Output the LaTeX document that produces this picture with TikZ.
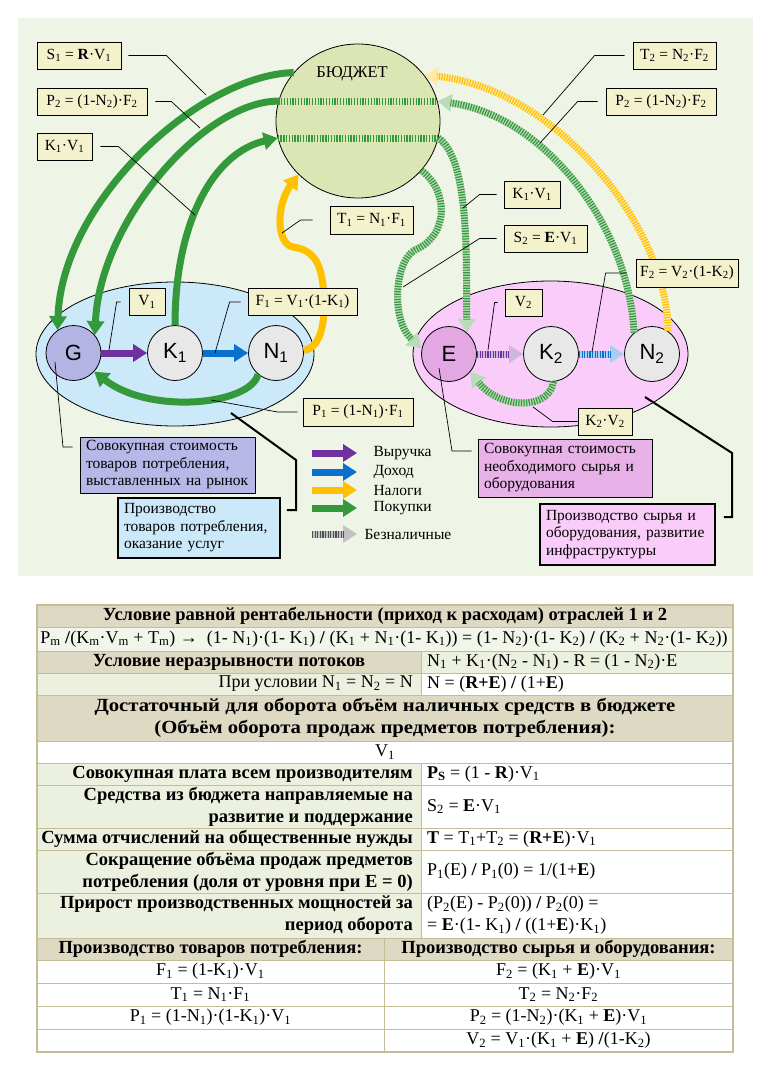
\documentclass[tikz,border=0pt]{standalone}
\usepackage{fontspec}
\setmainfont{Liberation Serif}
\newfontfamily\sansf{Liberation Sans}
\usetikzlibrary{arrows.meta,shapes.geometric}
\definecolor{panel}{HTML}{EEF5E6}
\definecolor{budfill}{HTML}{DCE6B4}
\definecolor{grn}{HTML}{33993A}
\definecolor{yel}{HTML}{FFC000}
\definecolor{pur}{HTML}{7030A0}
\definecolor{blu}{HTML}{0A70D0}
\definecolor{lblue}{HTML}{CCE9F9}
\definecolor{gfill}{HTML}{B4B4E4}
\definecolor{lpink}{HTML}{F9CCF9}
\definecolor{efill}{HTML}{E3A8E3}
\definecolor{pinkbox}{HTML}{E8B2E8}
\definecolor{lavbox}{HTML}{B8B8E8}
\definecolor{lblc}{HTML}{F4F1CD}
\definecolor{ngray}{HTML}{E8E8E8}
\definecolor{tanc}{HTML}{DDD9C3}
\definecolor{lgrn}{HTML}{EBF1DE}
\definecolor{pgrn}{HTML}{F2F6EA}
\definecolor{tborder}{HTML}{C4BD97}
\definecolor{hgray}{HTML}{505050}
\newcommand\sbs[1]{\textsubscript{#1}}
\newcommand\lf{\fontsize{15.5}{17.5}\selectfont}
\newcommand\nf{\sansf\fontsize{22}{24}\selectfont}
\newcommand\tf{\fontsize{18}{22}\selectfont}
\newcommand\tfb{\fontsize{18.5}{22}\selectfont\bfseries}
\newcommand\wide[1]{\scalebox{1.12}[1]{#1}}
\newcommand\hatch[2]{%
  \draw[line width=7pt, #1!35, -{Triangle[length=14pt,width=17pt]}] #2;
  \draw[line width=7pt, #1, dash pattern=on 1.2pt off 1.4pt, shorten >=13pt] #2;}
\newcommand\cell[5]{\draw[tborder, line width=1pt, fill=#5] (#1,#2) rectangle (#3,#4);}
\tikzset{
  circ/.style={circle, draw, line width=0.8pt, minimum size=55pt, inner sep=0pt, font=\nf},
  fat/.style={line width=7pt, -{Triangle[length=14pt,width=17pt]}},
  lbl/.style={draw, line width=0.8pt, fill=lblc, font=\lf, inner sep=0pt, minimum height=27pt},
  desc/.style={draw, font=\lf, align=left, inner xsep=6pt, inner ysep=0pt},
  lead/.style={draw, line width=0.7pt},
  tlead/.style={draw, line width=2pt},
  tl/.style={font=\tfb, anchor=east, align=right, inner sep=2pt},
  tr/.style={font=\tf, anchor=west, align=left, inner sep=2pt},
}
\begin{document}
\begin{tikzpicture}[x=1pt,y=-1pt]
\useasboundingbox (0,0) rectangle (768,1086);
\fill[white] (0,0) rectangle (768,1086);
\fill[panel] (18,18) rectangle (753,576);

% ellipses and budget
\node[ellipse, draw, line width=0.8pt, fill=lblue, minimum width=278pt, minimum height=144pt, inner sep=0pt] (ellA) at (175,354) {};
\node[ellipse, draw, line width=0.8pt, fill=lpink, minimum width=275pt, minimum height=146pt, inner sep=0pt] (ellB) at (550.5,354) {};
\node[ellipse, draw, line width=0.8pt, fill=budfill, minimum width=164pt, minimum height=154pt, inner sep=0pt] (bud) at (358,121) {};
\node[font=\fontsize{16.5}{18}\selectfont] (budt) at (352,74) {БЮДЖЕТ};

% circles
\node[circ, fill=gfill] (G) at (73.5,353) {G};
\node[circ, fill=ngray] (K1) at (175,353) {K\sbs{1}};
\node[circ, fill=ngray] (N1) at (276,353) {N\sbs{1}};
\node[circ, fill=efill] (E) at (449,354) {E};
\node[circ, fill=ngray] (K2) at (551,354) {K\sbs{2}};
\node[circ, fill=ngray] (N2) at (652,354) {N\sbs{2}};

% stripes in the budget
\draw[line width=7pt, grn, dash pattern=on 1.3pt off 1.5pt] (bud.166) -- (bud.14);
\draw[line width=7pt, grn, dash pattern=on 1.3pt off 1.5pt] (bud.192) -- (bud.-12);

% solid arrows
\draw[fat, grn] (bud.143) .. controls (200,75) and (62,200) .. (G.125);
\draw[fat, grn] (bud.166) .. controls (205,101) and (100,220) .. (G.40);
\draw[fat, grn] (K1.90) .. controls (175,220) and (215,152) .. (bud.192);
\draw[fat, grn] (N1.230) .. controls (250,405) and (150,415) .. (G.-42);
\draw[fat, yel] (N1.5) .. controls (318,348) and (325,330) .. (324,300)
   .. controls (323,265) and (315,250) .. (293,247)
   .. controls (276,244) and (276,205) .. (bud.222);
\draw[fat, pur] (G) -- (K1);
\draw[fat, blu] (K1) -- (N1);

% hatched arrows
\hatch{yel}{(N2.55) .. controls (668,230) and (560,90) .. (bud.35)}
\hatch{grn}{(N2.130) .. controls (628,220) and (540,115) .. (bud.14)}
\hatch{grn}{(bud.-12) .. controls (470,160) and (466,260) .. (E.50)}
\hatch{grn}{(bud.-38) .. controls (448,190) and (450,235) .. (415,250) .. controls (395,260) and (390,320) .. (E.168)}
\hatch{grn}{(K2.-85) .. controls (550,410) and (500,410) .. (E.-40)}
\hatch{pur}{(E) -- (K2)}
\hatch{blu}{(K2) -- (N2)}

% leader end points
\coordinate (s1e) at (206,95);
\coordinate (p2le) at (200,128);
\coordinate (k1v1le) at (195,215);
\coordinate (t1e) at (282,233);
\coordinate (t2e) at (543,115);
\coordinate (p2re) at (540,143);
\coordinate (k1v1re) at (463,208);
\coordinate (s2e) at (403,287);
\coordinate (f2e) at (592,352);
\coordinate (v1e) at (109,350);
\coordinate (f1e) at (215,353);
\coordinate (v2e) at (488,350);
\coordinate (p1e) at (211,400);
\coordinate (k2v2e) at (533,407);

% labels
\node[lbl, minimum width=84pt] (S1) at (79,55.5) {S\sbs{1} = \textbf{R}·V\sbs{1}};
\node[lbl, minimum width=110pt] (P2L) at (92,101.5) {P\sbs{2} = (1-N\sbs{2})·F\sbs{2}};
\node[lbl, minimum width=55pt] (K1V1L) at (64.5,146.5) {K\sbs{1}·V\sbs{1}};
\node[lbl, minimum width=83pt, minimum height=28pt] (T1) at (371.5,220) {T\sbs{1} = N\sbs{1}·F\sbs{1}};
\node[lbl, minimum width=36pt] (V1) at (147,302) {V\sbs{1}};
\node[lbl, minimum width=109pt] (F1) at (302.5,302) {F\sbs{1} = V\sbs{1}·(1-K\sbs{1})};
\node[lbl, minimum width=110pt, minimum height=28pt] (P1) at (358,412) {P\sbs{1} = (1-N\sbs{1})·F\sbs{1}};
\node[lbl, minimum width=83pt] (T2) at (674.5,55.5) {T\sbs{2} = N\sbs{2}·F\sbs{2}};
\node[lbl, minimum width=110pt] (P2R) at (661,101.5) {P\sbs{2} = (1-N\sbs{2})·F\sbs{2}};
\node[lbl, minimum width=56pt] (K1V1R) at (532,194.5) {K\sbs{1}·V\sbs{1}};
\node[lbl, minimum width=83pt] (S2) at (545.5,238.5) {S\sbs{2} = \textbf{E}·V\sbs{1}};
\node[lbl, minimum width=102pt, minimum height=28pt] (F2) at (687,273) {F\sbs{2} = V\sbs{2}·(1-K\sbs{2})};
\node[lbl, minimum width=37pt] (V2) at (523.5,302.5) {V\sbs{2}};
\node[lbl, minimum width=54pt] (K2V2) at (605,421.5) {K\sbs{2}·V\sbs{2}};

% thin leaders
\draw[lead] ([xshift=7pt]S1.east) -- ++(38,0) -- (s1e);
\draw[lead] ([xshift=8pt]P2L.east) -- ++(16,0) -- (p2le);
\draw[lead] ([xshift=8pt]K1V1L.east) -- ++(18,0) -- (k1v1le);
\draw[lead] ([xshift=-17pt]T1.west) -- ++(-12,0) -- (t1e);
\draw[lead] ([xshift=-8pt]T2.west) -- ++(-30,0) -- (t2e);
\draw[lead] ([xshift=-8pt]P2R.west) -- ++(-20,0) -- (p2re);
\draw[lead] ([xshift=-7pt]K1V1R.west) -- ++(-17,0) -- (k1v1re);
\draw[lead] ([xshift=-7pt]S2.west) -- ++(-17,0) -- (s2e);
\draw[lead] ([xshift=-9pt]F2.west) -- ++(-21,0) -- (f2e);
\draw[lead] ([xshift=-8pt]V1.west) -- ++(-4,0) -- (v1e);
\draw[lead] ([xshift=-7pt]F1.west) -- ++(-11,0) -- (f1e);
\draw[lead] ([xshift=-7pt]V2.west) -- ++(-3,0) -- (v2e);
\draw[lead] ([xshift=-5pt]P1.west) -- ++(-20,0) -- (p1e);
\draw[lead] (K2V2.west) -- ++(-25,0) -- (k2v2e);

% description boxes
\node[desc, line width=0.8pt, fill=lavbox, text width=163pt, minimum height=56pt] (D1) at (167.5,465) {Совокупная стоимость\\товаров потребления,\\выставленных на рынок};
\node[desc, line width=1.6pt, fill=lblue, text width=150pt, minimum height=60pt] (D2) at (199,528) {Производство\\товаров потребления,\\оказание услуг};
\node[desc, line width=0.8pt, fill=pinkbox, text width=162pt, minimum height=58pt] (D3) at (565,468) {Совокупная стоимость\\необходимого сырья и\\оборудования};
\node[desc, line width=1.6pt, fill=lpink, text width=163pt, minimum height=61pt] (D4) at (627.5,534.5) {Производство сырья и\\оборудования, развитие\\инфраструктуры};

\coordinate (d1s) at (55,362);
\coordinate (d2s) at (231,413);
\coordinate (d3s) at (439,368);
\coordinate (d4s) at (645,397);
\draw[lead] (d1s) -- (63,447) -- ([xshift=-7pt]D1.west |- 0,447);
\draw[tlead] (d2s) -- (296,460) -- (296,510) -- ([xshift=6pt]D2.east |- 0,510);
\draw[lead] (d3s) -- (452,451) -- ([xshift=-6pt]D3.west |- 0,451);
\draw[tlead] (d4s) -- (732,453) -- (732,517) -- ([xshift=8pt]D4.east |- 0,517);

% legend
\foreach \y/\c/\t [count=\i] in {453/pur/Выручка, 472/blu/Доход, 490/yel/Налоги, 508/grn/Покупки}{
  \coordinate (lga\i) at (312,\y);
  \coordinate (lgb\i) at (357,\y);
  \draw[fat, \c] (lga\i) -- (lgb\i);
  \node[font=\lf, anchor=west] (lgt\i) at (370,\y) {\t};
}
\coordinate (lga5) at (312,534);
\coordinate (lgb5) at (357,534);
\hatch{hgray}{(lga5) -- (lgb5)}
\node[font=\lf, anchor=west] (lgt5) at (361,534) {Безналичные};

% table
\cell{37}{605}{733}{627}{tanc}
\cell{37}{627}{733}{651}{pgrn}
\cell{37}{651}{421}{673}{tanc}
\cell{421}{651}{733}{673}{lgrn}
\cell{37}{673}{421}{695}{lgrn}
\cell{421}{673}{733}{695}{white}
\cell{37}{695}{733}{741}{tanc}
\cell{37}{741}{733}{763}{white}
\cell{37}{763}{421}{785}{lgrn}
\cell{421}{763}{733}{785}{white}
\cell{37}{785}{421}{828}{lgrn}
\cell{421}{785}{733}{828}{white}
\cell{37}{828}{421}{850}{lgrn}
\cell{421}{828}{733}{850}{white}
\cell{37}{850}{421}{893}{lgrn}
\cell{421}{850}{733}{893}{white}
\cell{37}{893}{421}{938}{lgrn}
\cell{421}{893}{733}{938}{white}
\cell{37}{938}{384}{960}{tanc}
\cell{384}{938}{733}{960}{tanc}
\cell{37}{960}{384}{983}{white}
\cell{384}{960}{733}{983}{white}
\cell{37}{983}{384}{1006}{white}
\cell{384}{983}{733}{1006}{white}
\cell{37}{1006}{384}{1029}{white}
\cell{384}{1006}{733}{1029}{white}
\cell{37}{1029}{384}{1052}{white}
\cell{384}{1029}{733}{1052}{white}
\draw[tborder, line width=2pt] (37,605) rectangle (733,1052);

\node[font=\tfb] (r1) at (385,616) {Условие равной рентабельности (приход к расходам) отраслей 1 и 2};
\node[font=\tf] (r2) at (384,639) {P\sbs{m} \textbf{/}(K\sbs{m}·V\sbs{m} + T\sbs{m}) →\ \ (1- N\sbs{1})·(1- K\sbs{1}) \textbf{/} (K\sbs{1} + N\sbs{1}·(1- K\sbs{1})) = (1- N\sbs{2})·(1- K\sbs{2}) \textbf{/} (K\sbs{2} + N\sbs{2}·(1- K\sbs{2}))};
\node[font=\tfb] (r3l) at (229,662) {Условие неразрывности потоков};
\node[tr] (r3r) at (425,662) {N\sbs{1} + K\sbs{1}·(N\sbs{2} - N\sbs{1}) - R = (1 - N\sbs{2})·E};
\node[tl, font=\tf] (r4l) at (415,684) {При условии N\sbs{1} = N\sbs{2} = N};
\node[tr] (r4r) at (425,684) {N = (\textbf{R+E}) \textbf{/} (1+\textbf{E})};
\node[font=\tfb, align=center] (r5) at (385,718) {\wide{Достаточный для оборота объём наличных средств в бюджете}\\\wide{(Объём оборота продаж предметов потребления):}};
\node[font=\tf] (r6) at (385,752) {V\sbs{1}};
\node[tl] (r7l) at (415,774) {Совокупная плата всем производителям};
\node[tr] (r7r) at (425,774) {\textbf{P\sbs{S}} = (1 - \textbf{R})·V\sbs{1}};
\node[tl] (r8l) at (415,806.5) {Средства из бюджета направляемые на\\развитие и поддержание};
\node[tr] (r8r) at (425,806.5) {S\sbs{2} = \textbf{E}·V\sbs{1}};
\node[tl] (r9l) at (415,839) {Сумма отчислений на общественные нужды};
\node[tr] (r9r) at (425,839) {\textbf{T} = T\sbs{1}+T\sbs{2} = (\textbf{R+E})·V\sbs{1}};
\node[tl] (r10l) at (415,871.5) {Сокращение объёма продаж предметов\\потребления (доля от уровня при E = 0)};
\node[tr] (r10r) at (425,871.5) {P\sbs{1}(E) \textbf{/} P\sbs{1}(0) = 1/(1+\textbf{E})};
\node[tl] (r11l) at (415,915.5) {Прирост производственных мощностей за\\период оборота};
\node[tr] (r11r) at (425,915.5) {(P\sbs{2}(E) - P\sbs{2}(0)) \textbf{/} P\sbs{2}(0) =\\= \textbf{E}·(1- K\sbs{1}) \textbf{/} ((1+\textbf{E})·K\sbs{1})};
\node[font=\tfb] (r12l) at (210.5,949) {Производство товаров потребления:};
\node[font=\tfb] (r12r) at (558.5,949) {Производство сырья и оборудования:};
\node[font=\tf] (r13l) at (210.5,971.5) {F\sbs{1} = (1-K\sbs{1})·V\sbs{1}};
\node[font=\tf] (r13r) at (558.5,971.5) {F\sbs{2} = (K\sbs{1} + \textbf{E})·V\sbs{1}};
\node[font=\tf] (r14l) at (210.5,994.5) {T\sbs{1} = N\sbs{1}·F\sbs{1}};
\node[font=\tf] (r14r) at (558.5,994.5) {T\sbs{2} = N\sbs{2}·F\sbs{2}};
\node[font=\tf] (r15l) at (210.5,1017.5) {P\sbs{1} = (1-N\sbs{1})·(1-K\sbs{1})·V\sbs{1}};
\node[font=\tf] (r15r) at (558.5,1017.5) {P\sbs{2} = (1-N\sbs{2})·(K\sbs{1} + \textbf{E})·V\sbs{1}};
\node[font=\tf] (r16r) at (558.5,1040.5) {V\sbs{2} = V\sbs{1}·(K\sbs{1} + \textbf{E}) \textbf{/}(1-K\sbs{2})};
\end{tikzpicture}
\end{document}
